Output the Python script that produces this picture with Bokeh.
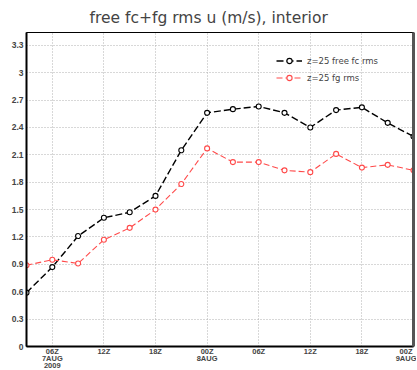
from bokeh.plotting import figure
from bokeh.models import FixedTicker, Legend, LegendItem, LinearAxis, Range1d
from bokeh.embed import file_html
from bokeh.resources import INLINE

# hours since 00Z 7AUG2009
hours = [3, 6, 9, 12, 15, 18, 21, 24, 27, 30, 33, 36, 39, 42, 45, 48]
free_fc = [0.59, 0.87, 1.21, 1.41, 1.47, 1.65, 2.15, 2.56, 2.60, 2.63, 2.56, 2.40, 2.59, 2.62, 2.45, 2.30]
fg = [0.89, 0.95, 0.91, 1.17, 1.30, 1.50, 1.78, 2.17, 2.02, 2.02, 1.93, 1.91, 2.11, 1.96, 1.99, 1.93]

x_ticks = [6, 12, 18, 24, 30, 36, 42, 48]
x_labels = ["06Z\n7AUG\n2009", "12Z", "18Z", "00Z\n8AUG", "06Z", "12Z", "18Z", "00Z\n9AUG"]
y_ticks = [0, 0.3, 0.6, 0.9, 1.2, 1.5, 1.8, 2.1, 2.4, 2.7, 3.0, 3.3]
y_labels = ["0", "0.3", "0.6", "0.9", "1.2", "1.5", "1.8", "2.1", "2.4", "2.7", "3", "3.3"]

title = "free fc+fg rms u (m/s), interior"
label_fc = "z=25 free fc rms"
label_fg = "z=25 fg rms"

p = figure(frame_width=387, frame_height=314, output_backend="svg", toolbar_location=None,
           x_range=Range1d(3, 48), y_range=Range1d(0, 3.44),
           min_border_left=26, min_border_right=3, min_border_top=32, min_border_bottom=1)

p.title.text = title
p.title.align = "left"
p.title.offset = 63
p.title.standoff = 11
p.title.text_font = "DejaVu Sans"
p.title.text_font_size = "15.5px"
p.title.text_font_style = "normal"

p.outline_line_color = "black"
p.outline_line_width = 1

for ax in (p.xaxis[0], p.yaxis[0]):
    ax.major_tick_line_color = None
    ax.minor_tick_line_color = None
    ax.major_tick_out = 0
    ax.major_tick_in = 0
    ax.minor_tick_out = 0
    ax.minor_tick_in = 0
    ax.axis_line_width = 2
    ax.axis_line_color = "black"
    ax.major_label_text_font = "Liberation Sans"
    ax.major_label_text_font_style = "bold"
    ax.major_label_text_font_size = "7.5px"
    ax.major_label_standoff = 0

p.yaxis.major_label_text_font_size = "8.5px"
p.yaxis.major_label_standoff = 3
p.xaxis.ticker = FixedTicker(ticks=x_ticks)
p.xaxis.major_label_overrides = {t: l for t, l in zip(x_ticks, x_labels)}
p.xaxis.major_label_text_line_height = 0.8
p.yaxis.ticker = FixedTicker(ticks=y_ticks)
p.yaxis.major_label_overrides = {t: l for t, l in zip(y_ticks, y_labels)}

rax = LinearAxis(major_tick_line_color=None, minor_tick_line_color=None,
                 major_tick_out=0, major_tick_in=0, minor_tick_out=0, minor_tick_in=0,
                 major_label_text_font_size="0px", axis_line_color="#555555",
                 axis_line_width=3, ticker=FixedTicker(ticks=[]))
p.add_layout(rax, "right")

for g in (p.xgrid[0], p.ygrid[0]):
    g.grid_line_color = "#b0b0b0"
    g.grid_line_dash = "1 2"
    g.grid_line_width = 1

red = "#ff4a4a"
l1 = p.line(hours, free_fc, line_color="black", line_width=1.4, line_dash="7 3")
s1 = p.scatter(hours, free_fc, marker="circle", size=5, line_color="black", fill_color="white", line_width=1.1)
l2 = p.line(hours, fg, line_color=red, line_width=1.1, line_dash="6 3")
s2 = p.scatter(hours, fg, marker="circle", size=5, line_color=red, fill_color="white", line_width=1.1)

legend = Legend(items=[LegendItem(label=label_fc, renderers=[l1, s1]),
                       LegendItem(label=label_fg, renderers=[l2, s2])],
                location=(250, 262), padding=0, margin=0, spacing=4,
                glyph_width=26, glyph_height=13, label_standoff=5,
                background_fill_alpha=0, border_line_color=None,
                label_text_font="DejaVu Sans", label_text_font_size="8.5px")
p.add_layout(legend, "center")

open("out.html", "w").write(file_html(p, INLINE))
